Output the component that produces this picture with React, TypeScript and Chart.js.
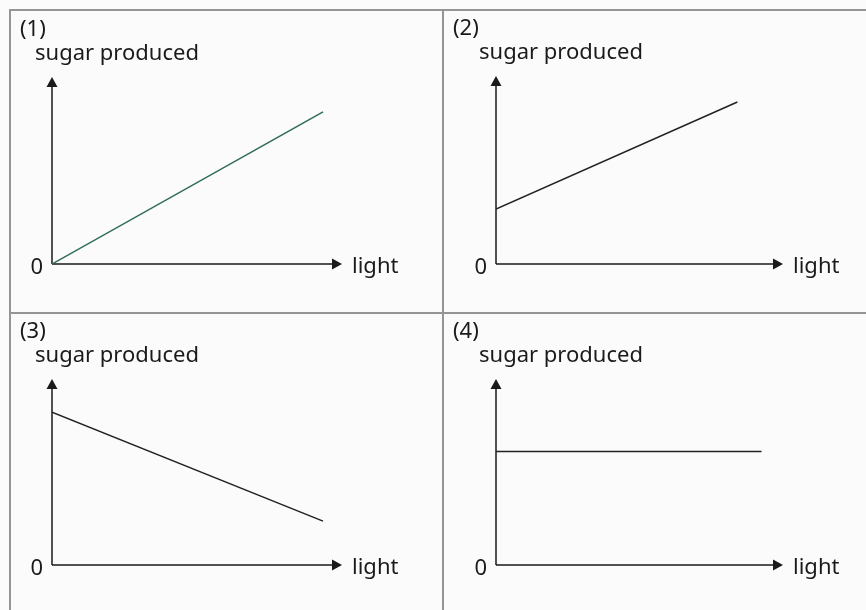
import React, { useEffect, useRef } from "react";
import { Chart, registerables } from "chart.js";

Chart.register(...registerables);

// ---- data ----
const panelLabels = ["(1)", "(2)", "(3)", "(4)"];
const yAxisTitle = "sugar produced";
const xAxisTitle = "light";
const originLabel = "0";
const lightMax = 10.7;
const sugarMax = 12.3;

const light1 = [0, 10.0];
const sugar1 = [0, 10.0];
const light2 = [0, 9.0];
const sugar2 = [3.6, 10.6];
const light3 = [0, 10.0];
const sugar3 = [10.1, 2.9];
const light4 = [0, 9.9];
const sugar4 = [7.5, 7.5];

const seriesLight = [light1, light2, light3, light4];
const seriesSugar = [sugar1, sugar2, sugar3, sugar4];
const lineColors = ["#2f6b5c", "#222222", "#222222", "#222222"];

// ---- layout ----
const canvasRects = [
  { x: 11, y: 11, w: 431, h: 301 },
  { x: 444, y: 11, w: 422, h: 301 },
  { x: 11, y: 314, w: 431, h: 296 },
  { x: 444, y: 314, w: 422, h: 296 },
];
const areaRects = [
  { l: 52, t: 77, r: 342, b: 264 },
  { l: 496, t: 76, r: 783, b: 264 },
  { l: 52, t: 379, r: 342, b: 565 },
  { l: 496, t: 379, r: 783, b: 565 },
];

const FONT = '22px "Noto Sans", "Open Sans", sans-serif';
const INK = "#1a1a1a";

const decorPlugin = {
  id: "decor",
  beforeDatasetsDraw(chart: any, _args: any, opts: any) {
    const ctx = chart.ctx;
    const xs = chart.scales.x;
    const ys = chart.scales.y;
    const ox = xs.getPixelForValue(0);
    const oy = ys.getPixelForValue(0);
    const tx = xs.getPixelForValue(lightMax);
    const ty = ys.getPixelForValue(sugarMax);
    ctx.save();
    ctx.strokeStyle = INK;
    ctx.fillStyle = INK;
    ctx.lineWidth = 1.5;
    // axes
    ctx.beginPath();
    ctx.moveTo(ox, oy);
    ctx.lineTo(ox, ty + 6);
    ctx.moveTo(ox, oy);
    ctx.lineTo(tx - 6, oy);
    ctx.stroke();
    // arrow heads
    ctx.beginPath();
    ctx.moveTo(ox, ty);
    ctx.lineTo(ox - 5.5, ty + 10);
    ctx.lineTo(ox + 5.5, ty + 10);
    ctx.closePath();
    ctx.fill();
    ctx.beginPath();
    ctx.moveTo(tx, oy);
    ctx.lineTo(tx - 10, oy - 5.5);
    ctx.lineTo(tx - 10, oy + 5.5);
    ctx.closePath();
    ctx.fill();
    // texts
    ctx.font = FONT;
    ctx.textBaseline = "middle";
    ctx.textAlign = "left";
    ctx.fillText(opts.label, 9, ty - 47);
    ctx.fillText(yAxisTitle, ox - 17, ty - 23);
    ctx.fillText(xAxisTitle, tx + 10, oy + 3);
    ctx.textAlign = "right";
    ctx.fillText(originLabel, ox - 9, oy + 4);
    ctx.restore();
  },
};

function Panel({ idx }: { idx: number }) {
  const ref = useRef<HTMLCanvasElement>(null);
  useEffect(() => {
    const c = canvasRects[idx];
    const a = areaRects[idx];
    const lx = seriesLight[idx];
    const sy = seriesSugar[idx];
    const chart = new Chart(ref.current as HTMLCanvasElement, {
      type: "line",
      data: {
        datasets: [
          {
            data: lx.map((v, i) => ({ x: v, y: sy[i] })),
            borderColor: lineColors[idx],
            borderWidth: 1.5,
            pointRadius: 0,
            fill: false,
            tension: 0,
          },
        ],
      },
      options: {
        animation: false,
        responsive: false,
        maintainAspectRatio: false,
        events: [],
        layout: {
          padding: {
            left: a.l - c.x,
            top: a.t - c.y,
            right: c.x + c.w - a.r,
            bottom: c.y + c.h - a.b,
          },
        },
        scales: {
          x: { type: "linear", min: 0, max: lightMax, display: false },
          y: { type: "linear", min: 0, max: sugarMax, display: false },
        },
        plugins: {
          legend: { display: false },
          tooltip: { enabled: false },
          decor: { label: panelLabels[idx] },
        } as any,
      },
      plugins: [decorPlugin],
    } as any);
    return () => chart.destroy();
  }, [idx]);
  const c = canvasRects[idx];
  return (
    <canvas
      ref={ref}
      width={c.w}
      height={c.h}
      style={{ position: "absolute", left: c.x, top: c.y, width: c.w, height: c.h }}
    />
  );
}

export default function App() {
  const border = "#959595";
  return (
    <div
      style={{
        position: "fixed",
        left: 0,
        top: 0,
        width: 866,
        height: 610,
        background: "#fbfbfb",
        overflow: "hidden",
      }}
    >
      <div style={{ position: "absolute", left: 9, top: 9, width: 857, height: 2, background: border }} />
      <div style={{ position: "absolute", left: 9, top: 9, width: 2, height: 601, background: border }} />
      <div style={{ position: "absolute", left: 442, top: 9, width: 2, height: 601, background: border }} />
      <div style={{ position: "absolute", left: 9, top: 312, width: 857, height: 2, background: border }} />
      {[0, 1, 2, 3].map((i) => (
        <Panel key={i} idx={i} />
      ))}
    </div>
  );
}
